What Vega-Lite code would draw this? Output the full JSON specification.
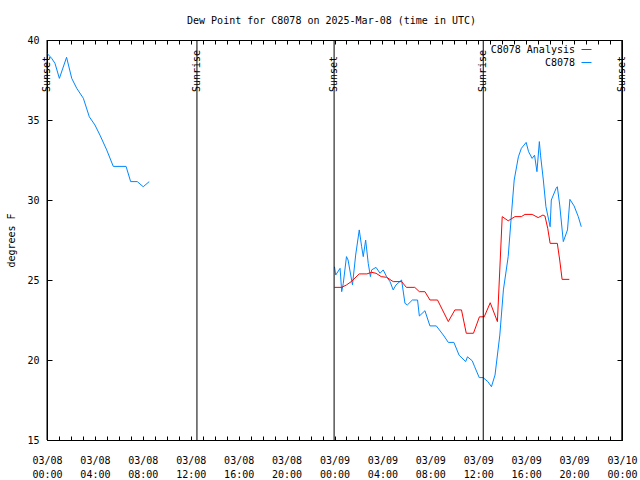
{
  "$schema": "https://vega.github.io/schema/vega-lite/v6.json",
  "width": 575,
  "height": 400,
  "autosize": {"type": "none"},
  "padding": {"left": 47, "top": 40, "right": 18, "bottom": 40},
  "background": "white",
  "config": {
    "font": "DejaVu Sans Mono",
    "view": {"stroke": "black", "strokeWidth": 1},
    "axis": {"labelFont": "DejaVu Sans Mono", "labelFontSize": 10, "labelColor": "black", "domainColor": "black", "tickColor": "black", "grid": false, "titleFont": "DejaVu Sans Mono", "titleFontSize": 10, "titleFontWeight": "normal", "titleColor": "black"},
    "legend": {"labelFont": "DejaVu Sans Mono", "labelFontSize": 10, "labelColor": "black"}
  },
  "title": {"text": "Dew Point for C8078 on 2025-Mar-08 (time in UTC)", "font": "DejaVu Sans Mono", "fontSize": 10, "fontWeight": "normal", "color": "black", "anchor": "middle", "baseline": "alphabetic", "offset": 1, "dx": -3},
  "datasets": {
    "obs": [
      {"t": "2025-03-08T00:00:00Z", "v": 39.17, "series": "C8078", "seg": "a"},
      {"t": "2025-03-08T00:23:00Z", "v": 38.86, "series": "C8078", "seg": "a"},
      {"t": "2025-03-08T00:40:00Z", "v": 38.54, "series": "C8078", "seg": "a"},
      {"t": "2025-03-08T01:02:00Z", "v": 37.6, "series": "C8078", "seg": "a"},
      {"t": "2025-03-08T01:38:00Z", "v": 38.92, "series": "C8078", "seg": "a"},
      {"t": "2025-03-08T02:04:00Z", "v": 37.6, "series": "C8078", "seg": "a"},
      {"t": "2025-03-08T02:29:00Z", "v": 36.98, "series": "C8078", "seg": "a"},
      {"t": "2025-03-08T03:02:00Z", "v": 36.36, "series": "C8078", "seg": "a"},
      {"t": "2025-03-08T03:32:00Z", "v": 35.2, "series": "C8078", "seg": "a"},
      {"t": "2025-03-08T04:00:00Z", "v": 34.69, "series": "C8078", "seg": "a"},
      {"t": "2025-03-08T04:25:00Z", "v": 34.06, "series": "C8078", "seg": "a"},
      {"t": "2025-03-08T04:59:00Z", "v": 33.13, "series": "C8078", "seg": "a"},
      {"t": "2025-03-08T05:32:00Z", "v": 32.1, "series": "C8078", "seg": "a"},
      {"t": "2025-03-08T06:36:00Z", "v": 32.1, "series": "C8078", "seg": "a"},
      {"t": "2025-03-08T06:59:00Z", "v": 31.15, "series": "C8078", "seg": "a"},
      {"t": "2025-03-08T07:32:00Z", "v": 31.15, "series": "C8078", "seg": "a"},
      {"t": "2025-03-08T08:02:00Z", "v": 30.83, "series": "C8078", "seg": "a"},
      {"t": "2025-03-08T08:32:00Z", "v": 31.15, "series": "C8078", "seg": "a"},
      {"t": "2025-03-09T00:00:00Z", "v": 25.83, "series": "C8078", "seg": "b"},
      {"t": "2025-03-09T00:06:00Z", "v": 25.31, "series": "C8078", "seg": "b"},
      {"t": "2025-03-09T00:28:00Z", "v": 25.73, "series": "C8078", "seg": "b"},
      {"t": "2025-03-09T00:36:00Z", "v": 24.27, "series": "C8078", "seg": "b"},
      {"t": "2025-03-09T00:44:00Z", "v": 24.79, "series": "C8078", "seg": "b"},
      {"t": "2025-03-09T01:00:00Z", "v": 26.46, "series": "C8078", "seg": "b"},
      {"t": "2025-03-09T01:08:00Z", "v": 26.25, "series": "C8078", "seg": "b"},
      {"t": "2025-03-09T01:30:00Z", "v": 24.69, "series": "C8078", "seg": "b"},
      {"t": "2025-03-09T01:46:00Z", "v": 26.56, "series": "C8078", "seg": "b"},
      {"t": "2025-03-09T02:04:00Z", "v": 28.13, "series": "C8078", "seg": "b"},
      {"t": "2025-03-09T02:16:00Z", "v": 27.08, "series": "C8078", "seg": "b"},
      {"t": "2025-03-09T02:24:00Z", "v": 26.46, "series": "C8078", "seg": "b"},
      {"t": "2025-03-09T02:36:00Z", "v": 27.5, "series": "C8078", "seg": "b"},
      {"t": "2025-03-09T02:49:00Z", "v": 26.04, "series": "C8078", "seg": "b"},
      {"t": "2025-03-09T03:00:00Z", "v": 25.21, "series": "C8078", "seg": "b"},
      {"t": "2025-03-09T03:06:00Z", "v": 25.63, "series": "C8078", "seg": "b"},
      {"t": "2025-03-09T03:28:00Z", "v": 25.79, "series": "C8078", "seg": "b"},
      {"t": "2025-03-09T03:48:00Z", "v": 25.42, "series": "C8078", "seg": "b"},
      {"t": "2025-03-09T04:04:00Z", "v": 25.63, "series": "C8078", "seg": "b"},
      {"t": "2025-03-09T04:21:00Z", "v": 25.21, "series": "C8078", "seg": "b"},
      {"t": "2025-03-09T04:38:00Z", "v": 24.9, "series": "C8078", "seg": "b"},
      {"t": "2025-03-09T04:54:00Z", "v": 24.38, "series": "C8078", "seg": "b"},
      {"t": "2025-03-09T05:08:00Z", "v": 24.69, "series": "C8078", "seg": "b"},
      {"t": "2025-03-09T05:36:00Z", "v": 25.0, "series": "C8078", "seg": "b"},
      {"t": "2025-03-09T05:53:00Z", "v": 23.54, "series": "C8078", "seg": "b"},
      {"t": "2025-03-09T06:05:00Z", "v": 23.44, "series": "C8078", "seg": "b"},
      {"t": "2025-03-09T06:30:00Z", "v": 23.75, "series": "C8078", "seg": "b"},
      {"t": "2025-03-09T06:56:00Z", "v": 23.75, "series": "C8078", "seg": "b"},
      {"t": "2025-03-09T07:05:00Z", "v": 22.75, "series": "C8078", "seg": "b"},
      {"t": "2025-03-09T07:33:00Z", "v": 23.08, "series": "C8078", "seg": "b"},
      {"t": "2025-03-09T07:58:00Z", "v": 22.13, "series": "C8078", "seg": "b"},
      {"t": "2025-03-09T08:30:00Z", "v": 22.13, "series": "C8078", "seg": "b"},
      {"t": "2025-03-09T09:05:00Z", "v": 21.56, "series": "C8078", "seg": "b"},
      {"t": "2025-03-09T09:30:00Z", "v": 21.1, "series": "C8078", "seg": "b"},
      {"t": "2025-03-09T09:58:00Z", "v": 21.1, "series": "C8078", "seg": "b"},
      {"t": "2025-03-09T10:24:00Z", "v": 20.3, "series": "C8078", "seg": "b"},
      {"t": "2025-03-09T10:57:00Z", "v": 19.9, "series": "C8078", "seg": "b"},
      {"t": "2025-03-09T11:06:00Z", "v": 20.2, "series": "C8078", "seg": "b"},
      {"t": "2025-03-09T11:30:00Z", "v": 19.95, "series": "C8078", "seg": "b"},
      {"t": "2025-03-09T11:42:00Z", "v": 19.58, "series": "C8078", "seg": "b"},
      {"t": "2025-03-09T12:05:00Z", "v": 18.9, "series": "C8078", "seg": "b"},
      {"t": "2025-03-09T12:24:00Z", "v": 18.9, "series": "C8078", "seg": "b"},
      {"t": "2025-03-09T12:48:00Z", "v": 18.65, "series": "C8078", "seg": "b"},
      {"t": "2025-03-09T13:06:00Z", "v": 18.33, "series": "C8078", "seg": "b"},
      {"t": "2025-03-09T13:24:00Z", "v": 19.06, "series": "C8078", "seg": "b"},
      {"t": "2025-03-09T13:48:00Z", "v": 21.56, "series": "C8078", "seg": "b"},
      {"t": "2025-03-09T14:06:00Z", "v": 24.38, "series": "C8078", "seg": "b"},
      {"t": "2025-03-09T14:30:00Z", "v": 26.46, "series": "C8078", "seg": "b"},
      {"t": "2025-03-09T14:48:00Z", "v": 29.38, "series": "C8078", "seg": "b"},
      {"t": "2025-03-09T15:00:00Z", "v": 31.25, "series": "C8078", "seg": "b"},
      {"t": "2025-03-09T15:21:00Z", "v": 32.7, "series": "C8078", "seg": "b"},
      {"t": "2025-03-09T15:36:00Z", "v": 33.23, "series": "C8078", "seg": "b"},
      {"t": "2025-03-09T16:00:00Z", "v": 33.6, "series": "C8078", "seg": "b"},
      {"t": "2025-03-09T16:12:00Z", "v": 33.02, "series": "C8078", "seg": "b"},
      {"t": "2025-03-09T16:30:00Z", "v": 32.6, "series": "C8078", "seg": "b"},
      {"t": "2025-03-09T16:42:00Z", "v": 32.8, "series": "C8078", "seg": "b"},
      {"t": "2025-03-09T16:54:00Z", "v": 31.77, "series": "C8078", "seg": "b"},
      {"t": "2025-03-09T17:06:00Z", "v": 33.65, "series": "C8078", "seg": "b"},
      {"t": "2025-03-09T17:12:00Z", "v": 32.8, "series": "C8078", "seg": "b"},
      {"t": "2025-03-09T17:26:00Z", "v": 31.25, "series": "C8078", "seg": "b"},
      {"t": "2025-03-09T17:39:00Z", "v": 29.58, "series": "C8078", "seg": "b"},
      {"t": "2025-03-09T18:00:00Z", "v": 28.33, "series": "C8078", "seg": "b"},
      {"t": "2025-03-09T18:06:00Z", "v": 30.0, "series": "C8078", "seg": "b"},
      {"t": "2025-03-09T18:30:00Z", "v": 30.73, "series": "C8078", "seg": "b"},
      {"t": "2025-03-09T18:36:00Z", "v": 30.83, "series": "C8078", "seg": "b"},
      {"t": "2025-03-09T18:48:00Z", "v": 29.69, "series": "C8078", "seg": "b"},
      {"t": "2025-03-09T19:06:00Z", "v": 27.4, "series": "C8078", "seg": "b"},
      {"t": "2025-03-09T19:27:00Z", "v": 28.13, "series": "C8078", "seg": "b"},
      {"t": "2025-03-09T19:39:00Z", "v": 30.04, "series": "C8078", "seg": "b"},
      {"t": "2025-03-09T20:00:00Z", "v": 29.63, "series": "C8078", "seg": "b"},
      {"t": "2025-03-09T20:21:00Z", "v": 28.96, "series": "C8078", "seg": "b"},
      {"t": "2025-03-09T20:36:00Z", "v": 28.33, "series": "C8078", "seg": "b"},
      {"t": "2025-03-09T00:00:00Z", "v": 24.54, "series": "C8078 Analysis", "seg": "c"},
      {"t": "2025-03-09T00:36:00Z", "v": 24.54, "series": "C8078 Analysis", "seg": "c"},
      {"t": "2025-03-09T01:00:00Z", "v": 24.69, "series": "C8078 Analysis", "seg": "c"},
      {"t": "2025-03-09T01:24:00Z", "v": 24.9, "series": "C8078 Analysis", "seg": "c"},
      {"t": "2025-03-09T02:04:00Z", "v": 25.38, "series": "C8078 Analysis", "seg": "c"},
      {"t": "2025-03-09T02:42:00Z", "v": 25.38, "series": "C8078 Analysis", "seg": "c"},
      {"t": "2025-03-09T03:06:00Z", "v": 25.48, "series": "C8078 Analysis", "seg": "c"},
      {"t": "2025-03-09T03:28:00Z", "v": 25.42, "series": "C8078 Analysis", "seg": "c"},
      {"t": "2025-03-09T03:54:00Z", "v": 25.21, "series": "C8078 Analysis", "seg": "c"},
      {"t": "2025-03-09T04:21:00Z", "v": 25.17, "series": "C8078 Analysis", "seg": "c"},
      {"t": "2025-03-09T04:54:00Z", "v": 24.9, "series": "C8078 Analysis", "seg": "c"},
      {"t": "2025-03-09T05:36:00Z", "v": 24.9, "series": "C8078 Analysis", "seg": "c"},
      {"t": "2025-03-09T06:00:00Z", "v": 24.54, "series": "C8078 Analysis", "seg": "c"},
      {"t": "2025-03-09T06:42:00Z", "v": 24.54, "series": "C8078 Analysis", "seg": "c"},
      {"t": "2025-03-09T07:05:00Z", "v": 24.27, "series": "C8078 Analysis", "seg": "c"},
      {"t": "2025-03-09T07:33:00Z", "v": 24.27, "series": "C8078 Analysis", "seg": "c"},
      {"t": "2025-03-09T07:58:00Z", "v": 23.75, "series": "C8078 Analysis", "seg": "c"},
      {"t": "2025-03-09T08:36:00Z", "v": 23.75, "series": "C8078 Analysis", "seg": "c"},
      {"t": "2025-03-09T09:30:00Z", "v": 22.4, "series": "C8078 Analysis", "seg": "c"},
      {"t": "2025-03-09T10:03:00Z", "v": 23.13, "series": "C8078 Analysis", "seg": "c"},
      {"t": "2025-03-09T10:36:00Z", "v": 23.13, "series": "C8078 Analysis", "seg": "c"},
      {"t": "2025-03-09T11:00:00Z", "v": 21.67, "series": "C8078 Analysis", "seg": "c"},
      {"t": "2025-03-09T11:36:00Z", "v": 21.67, "series": "C8078 Analysis", "seg": "c"},
      {"t": "2025-03-09T12:06:00Z", "v": 22.7, "series": "C8078 Analysis", "seg": "c"},
      {"t": "2025-03-09T12:30:00Z", "v": 22.7, "series": "C8078 Analysis", "seg": "c"},
      {"t": "2025-03-09T13:00:00Z", "v": 23.58, "series": "C8078 Analysis", "seg": "c"},
      {"t": "2025-03-09T13:36:00Z", "v": 22.4, "series": "C8078 Analysis", "seg": "c"},
      {"t": "2025-03-09T14:00:00Z", "v": 28.96, "series": "C8078 Analysis", "seg": "c"},
      {"t": "2025-03-09T14:30:00Z", "v": 28.7, "series": "C8078 Analysis", "seg": "c"},
      {"t": "2025-03-09T15:04:00Z", "v": 28.96, "series": "C8078 Analysis", "seg": "c"},
      {"t": "2025-03-09T15:36:00Z", "v": 28.96, "series": "C8078 Analysis", "seg": "c"},
      {"t": "2025-03-09T15:54:00Z", "v": 29.1, "series": "C8078 Analysis", "seg": "c"},
      {"t": "2025-03-09T16:30:00Z", "v": 29.1, "series": "C8078 Analysis", "seg": "c"},
      {"t": "2025-03-09T17:00:00Z", "v": 28.9, "series": "C8078 Analysis", "seg": "c"},
      {"t": "2025-03-09T17:24:00Z", "v": 29.06, "series": "C8078 Analysis", "seg": "c"},
      {"t": "2025-03-09T17:34:00Z", "v": 29.0, "series": "C8078 Analysis", "seg": "c"},
      {"t": "2025-03-09T17:48:00Z", "v": 28.23, "series": "C8078 Analysis", "seg": "c"},
      {"t": "2025-03-09T18:00:00Z", "v": 27.29, "series": "C8078 Analysis", "seg": "c"},
      {"t": "2025-03-09T18:36:00Z", "v": 27.29, "series": "C8078 Analysis", "seg": "c"},
      {"t": "2025-03-09T18:48:00Z", "v": 26.25, "series": "C8078 Analysis", "seg": "c"},
      {"t": "2025-03-09T19:00:00Z", "v": 25.04, "series": "C8078 Analysis", "seg": "c"},
      {"t": "2025-03-09T19:36:00Z", "v": 25.04, "series": "C8078 Analysis", "seg": "c"}
    ],
    "events": [
      {"t": "2025-03-08T00:00:00Z", "label": "Sunset"},
      {"t": "2025-03-08T12:31:00Z", "label": "Sunrise"},
      {"t": "2025-03-08T23:58:00Z", "label": "Sunset"},
      {"t": "2025-03-09T12:25:00Z", "label": "Sunrise"},
      {"t": "2025-03-09T23:59:00Z", "label": "Sunset"}
    ]
  },
  "resolve": {"axis": {"x": "independent", "y": "independent"}},
  "layer": [
    {
      "data": {"name": "obs"},
      "mark": {"type": "line", "strokeWidth": 1, "clip": true},
      "encoding": {
        "x": {"field": "t", "type": "temporal",
          "scale": {"type": "utc", "domain": [{"year": 2025, "month": 3, "date": 8, "utc": true}, {"year": 2025, "month": 3, "date": 10, "utc": true}]},
          "axis": {"orient": "bottom", "title": null, "tickCount": 48,
            "labelExpr": "utchours(datum.value) % 4 === 0 ? [utcFormat(datum.value, '%m/%d'), utcFormat(datum.value, '%H:%M')] : ''",
            "labelOverlap": false, "labelFlush": false, "labelBaseline": "top", "labelLineHeight": 14.5, "labelPadding": 19,
            "tickSize": -4}},
        "y": {"field": "v", "type": "quantitative",
          "scale": {"domain": [15, 40], "nice": false, "zero": false},
          "axis": {"orient": "left", "title": "degrees F", "values": [15, 20, 25, 30, 35, 40], "tickSize": -5, "labelPadding": 13, "titlePadding": 10}},
        "color": {"field": "series", "type": "nominal",
          "scale": {"domain": ["C8078 Analysis", "C8078"], "range": ["#ff0000", "#0088ff"]},
          "legend": {"title": null, "orient": "none", "legendX": 534, "legendY": 4, "padding": 0, "symbolType": "stroke", "symbolSize": 100, "symbolStrokeWidth": 1, "labelAlign": "right", "labelOffset": -17, "rowPadding": 2}},
        "detail": {"field": "seg", "type": "nominal"}
      }
    },
    {
      "data": {"name": "obs"},
      "mark": {"type": "point", "opacity": 0},
      "encoding": {
        "x": {"field": "t", "type": "temporal",
          "scale": {"type": "utc", "domain": [{"year": 2025, "month": 3, "date": 8, "utc": true}, {"year": 2025, "month": 3, "date": 10, "utc": true}]},
          "axis": {"orient": "top", "title": null, "labels": false, "domain": false, "tickCount": 48, "tickSize": -4}},
        "y": {"field": "v", "type": "quantitative",
          "scale": {"domain": [15, 40], "nice": false, "zero": false},
          "axis": {"orient": "right", "title": null, "labels": false, "domain": false, "values": [15, 20, 25, 30, 35, 40], "tickSize": -5}}
      }
    },
    {
      "data": {"name": "events"},
      "mark": {"type": "rule", "color": "black", "strokeWidth": 1},
      "encoding": {
        "x": {"field": "t", "type": "temporal",
          "scale": {"type": "utc", "domain": [{"year": 2025, "month": 3, "date": 8, "utc": true}, {"year": 2025, "month": 3, "date": 10, "utc": true}]},
          "axis": null}
      }
    },
    {
      "data": {"name": "events"},
      "mark": {"type": "text", "angle": 270, "align": "left", "baseline": "middle", "font": "DejaVu Sans Mono", "fontSize": 10, "color": "black"},
      "encoding": {
        "x": {"field": "t", "type": "temporal",
          "scale": {"type": "utc", "domain": [{"year": 2025, "month": 3, "date": 8, "utc": true}, {"year": 2025, "month": 3, "date": 10, "utc": true}]},
          "axis": null},
        "y": {"datum": 36.75, "type": "quantitative", "axis": null},
        "text": {"field": "label"}
      }
    }
  ]
}
